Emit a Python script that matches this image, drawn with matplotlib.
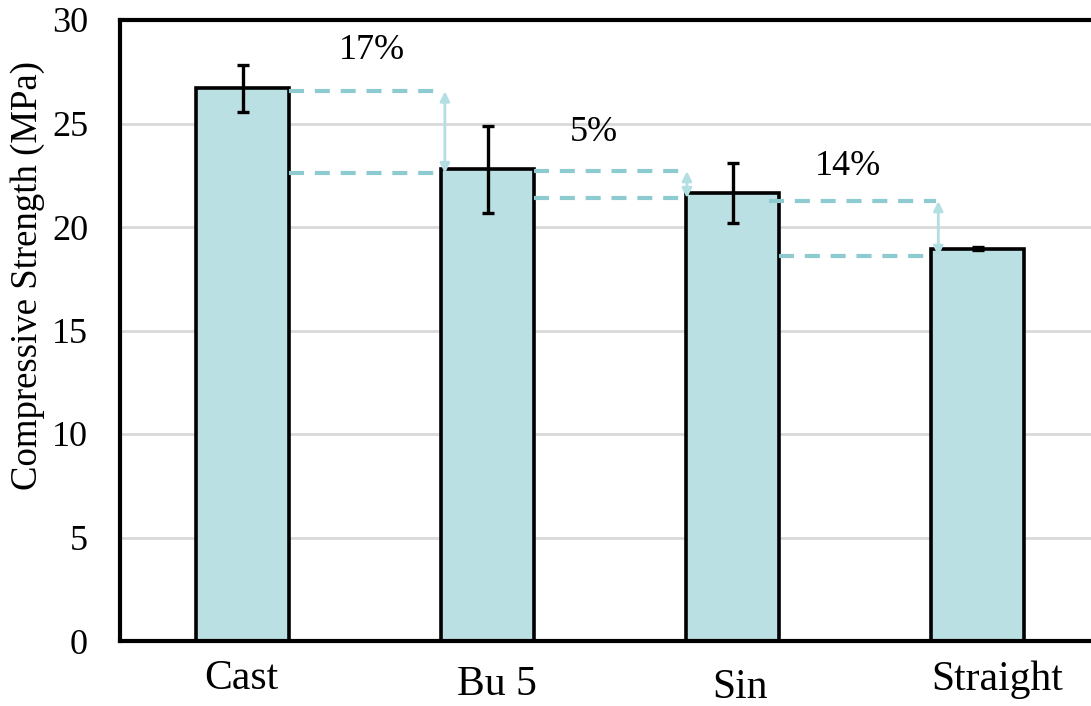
import numpy as np
import matplotlib
matplotlib.use("Agg")
import matplotlib.pyplot as plt

# data
categories = ["Cast", "Bu 5", "Sin", "Straight"]
strength = [26.7, 22.8, 21.65, 18.95]
errors = [1.15, 2.1, 1.45, 0.08]

# reduction bridges between neighbouring bars
pct_labels = ["17%", "5%", "14%"]
upper_vals = [26.55, 22.7, 21.25]
lower_vals = [22.6, 21.4, 18.6]
pct_y = [28.55, 24.55, 22.9]
pct_x = [0.527, 1.433, 2.47]

plt.rcParams['font.family'] = ['Liberation Serif', 'DejaVu Serif']

fig = plt.figure(figsize=(10.91, 7.06), dpi=100)
ax = fig.add_axes([120/1091, 65/706, 980/1091, 621/706])

x = np.arange(len(categories))
ax.yaxis.grid(True, color='#d9d9d9', lw=2)
ax.set_axisbelow(True)
ax.bar(x, strength, width=0.38, color='#bbe0e3', edgecolor='black', lw=2.6, zorder=2)
ax.errorbar(x, strength, yerr=errors, fmt='none', ecolor='black', elinewidth=2.4,
            capsize=4.5, capthick=2.4, zorder=3)

dash_col = '#8ecbd0'
arrow_col = '#b3dfe2'
starts_up = [0.19, 1.19, 2.15]
starts_lo = [0.19, 1.19, 2.19]
arrow_x = [0.816, 1.804, 2.83]
for i in range(3):
    ax.plot([starts_up[i], arrow_x[i]], [upper_vals[i], upper_vals[i]], color=dash_col,
            lw=3, dashes=(3.6, 2.6), zorder=4)
    ax.plot([starts_lo[i], arrow_x[i] - 0.01], [lower_vals[i], lower_vals[i]], color=dash_col,
            lw=3, dashes=(3.6, 2.6), zorder=4)
    ax.annotate('', xy=(arrow_x[i] + 0.01, upper_vals[i]), xytext=(arrow_x[i] + 0.01, lower_vals[i]),
                arrowprops=dict(arrowstyle='<|-|>', color=arrow_col, lw=2,
                                mutation_scale=14, shrinkA=0, shrinkB=0), zorder=4)
    ax.text(pct_x[i], pct_y[i], pct_labels[i], fontsize=26, ha='center', va='center')

ax.set_xlim(-0.5, 3.5)
ax.set_ylim(0, 30)
ax.set_yticks(np.arange(0, 31, 5))
ax.tick_params(axis='y', length=0, labelsize=26, pad=23)
ax.set_xticks(x)
ax.set_xticklabels([])
ax.tick_params(axis='x', length=0)
label_x = [-0.004, 1.037, 2.03, 3.08]
label_y = [-1.8, -2.1, -2.28, -1.88]
for i, c in enumerate(categories):
    ax.text(label_x[i], label_y[i], c, fontsize=30, ha='center', va='center')

fig.text(28/1091, 1 - 276/706, "Compressive Strength (MPa)", fontsize=26.5,
         rotation=90, ha='center', va='center')
for s in ['left', 'bottom', 'top']:
    ax.spines[s].set_linewidth(3)
ax.spines['right'].set_visible(False)

fig.savefig("out.png", dpi=100)
